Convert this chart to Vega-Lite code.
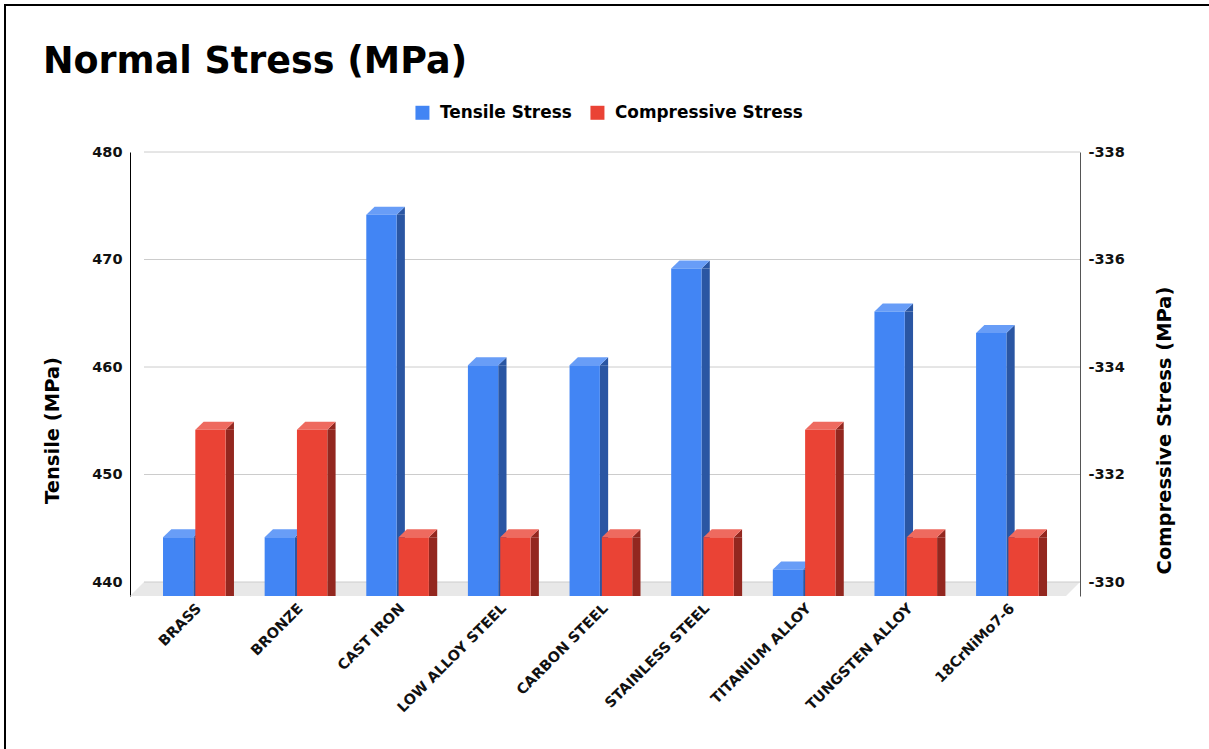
{
  "$schema": "https://vega.github.io/schema/vega-lite/v6.json",
  "width": 950,
  "height": 444,
  "autosize": {"type": "none"},
  "padding": {"left": 130, "top": 152, "right": 129, "bottom": 153},
  "background": "white",
  "config": {
    "view": {"stroke": null},
    "font": "DejaVu Sans",
    "axis": {
      "grid": false,
      "ticks": false,
      "labelFont": "DejaVu Sans",
      "labelFontWeight": "bold",
      "labelColor": "#111111",
      "titleFont": "DejaVu Sans",
      "titleFontWeight": "bold",
      "titleColor": "#000000"
    },
    "axisX": {
      "domain": false,
      "labelAngle": -45,
      "labelAlign": "right",
      "labelBaseline": "middle",
      "labelFontSize": 14.4,
      "labelPadding": 10,
      "labelOffset": 5,
      "labelLimit": 300
    },
    "axisY": {
      "domain": true,
      "domainWidth": 1,
      "labelFontSize": 14.5,
      "labelPadding": 8,
      "titleFontSize": 19.5,
      "titleAngle": -90,
      "titleAlign": "center",
      "titleBaseline": "middle",
      "titleY": 278
    },
    "axisLeft": {"domainColor": "#000000", "titleX": -78},
    "axisRight": {"domainColor": "#555555", "titleX": 84}
  },
  "title": {
    "text": "Normal Stress (MPa)",
    "anchor": "start",
    "frame": "group",
    "font": "DejaVu Sans",
    "fontSize": 36.5,
    "fontWeight": "bold",
    "color": "#000000",
    "dx": -87,
    "offset": 0,
    "dy": 76
  },
  "datasets": {
    "stress": [
      {"material": "BRASS", "tensile": 445, "compressive": -333},
      {"material": "BRONZE", "tensile": 445, "compressive": -333},
      {"material": "CAST IRON", "tensile": 475, "compressive": -331},
      {"material": "LOW ALLOY STEEL", "tensile": 461, "compressive": -331},
      {"material": "CARBON STEEL", "tensile": 461, "compressive": -331},
      {"material": "STAINLESS STEEL", "tensile": 470, "compressive": -331},
      {"material": "TITANIUM ALLOY", "tensile": 442, "compressive": -333},
      {"material": "TUNGSTEN ALLOY", "tensile": 466, "compressive": -331},
      {"material": "18CrNiMo7-6", "tensile": 464, "compressive": -331}
    ],
    "gridlines": [
      {"tick": 440}, {"tick": 450}, {"tick": 460}, {"tick": 470}, {"tick": 480}
    ],
    "single": [{"part": "decor"}]
  },
  "layer": [
    {
      "layer": [
        {
          "description": "Outer frame of the chart card",
          "data": {"name": "single"},
          "mark": {"type": "rect", "fill": null, "stroke": "#000000", "strokeWidth": 2},
          "encoding": {
            "x": {"value": -125},
            "x2": {"value": 1200},
            "y": {"value": -147},
            "y2": {"value": 800}
          }
        },
        {
          "description": "Grey floor of the 3D plot box",
          "data": {"name": "single"},
          "mark": {
            "type": "point",
            "shape": "M0,14 L14,0 L950,0 L936,14 Z",
            "size": 4,
            "filled": true,
            "fill": "#e8e8e8",
            "stroke": null,
            "opacity": 1
          },
          "encoding": {
            "x": {"value": 0},
            "y": {
              "datum": 440,
              "type": "quantitative",
              "scale": {"domain": [438.698, 480], "nice": false, "zero": false},
              "axis": {"title": "Tensile (MPa)", "values": [440, 450, 460, 470, 480]}
            }
          }
        },
        {
          "description": "Gridlines on the back wall",
          "data": {"name": "gridlines"},
          "mark": {"type": "rule", "stroke": "#cccccc", "strokeWidth": 1},
          "encoding": {
            "x": {"value": 14},
            "x2": {"value": 950},
            "y": {
              "field": "tick",
              "type": "quantitative",
              "axis": {"title": "Tensile (MPa)", "values": [440, 450, 460, 470, 480]}
            }
          }
        },
        {
          "description": "Tensile bars: side, top and front faces",
          "data": {"name": "stress"},
          "encoding": {
            "x": {
              "field": "material",
              "type": "nominal",
              "sort": null,
              "scale": {"range": [13.5, 928.2], "paddingInner": 0, "paddingOuter": 0},
              "axis": {"title": null}
            },
            "y": {
              "field": "tensile",
              "type": "quantitative",
              "axis": {"title": "Tensile (MPa)", "values": [440, 450, 460, 470, 480]}
            }
          },
          "layer": [
            {
              "mark": {"type": "bar", "width": 8.3, "xOffset": 3.15, "yOffset": 9, "fill": "#2a56a3"},
              "encoding": {"y2": {"datum": 438.698}}
            },
            {
              "mark": {"type": "point", "shape": "M-1,9 L7.3,1 L7.3,9 Z", "size": 4, "filled": true, "fill": "#2a56a3", "stroke": null, "opacity": 1}
            },
            {
              "mark": {"type": "point", "shape": "M-31.3,9 L-1,9 L7.3,1 L-23,1 Z", "size": 4, "filled": true, "fill": "#689df7", "stroke": null, "opacity": 1}
            },
            {
              "mark": {"type": "bar", "width": 30.3, "xOffset": -16.15, "yOffset": 9},
              "encoding": {
                "y2": {"datum": 438.698},
                "color": {
                  "datum": "Tensile Stress",
                  "scale": {"domain": ["Tensile Stress", "Compressive Stress"], "range": ["#4285f4", "#ea4335"]},
                  "legend": {
                    "title": null,
                    "orient": "none",
                    "direction": "horizontal",
                    "legendX": 284,
                    "legendY": -48,
                    "symbolType": "square",
                    "symbolSize": 196,
                    "symbolStrokeWidth": 0,
                    "labelFont": "DejaVu Sans",
                    "labelFontWeight": "bold",
                    "labelFontSize": 16.9,
                    "labelColor": "#000000",
                    "labelOffset": 9,
                    "columnPadding": 17,
                    "padding": 0,
                    "labelLimit": 300
                  }
                }
              }
            }
          ]
        }
      ]
    },
    {
      "data": {"name": "stress"},
      "encoding": {
        "x": {"field": "material", "type": "nominal", "sort": null, "axis": {"title": null}},
        "y": {
          "field": "compressive",
          "type": "quantitative",
          "scale": {"domain": [-329.74, -338], "nice": false, "zero": false},
          "axis": {
            "orient": "right",
            "title": "Compressive Stress (MPa)",
            "values": [-338, -336, -334, -332, -330],
            "labelExpr": "'-' + abs(datum.value)"
          }
        }
      },
      "layer": [
        {
          "mark": {"type": "bar", "width": 8.3, "xOffset": 35.5, "yOffset": 9, "fill": "#93271f"},
          "encoding": {"y2": {"datum": -329.74}}
        },
        {
          "mark": {"type": "point", "shape": "M31.3,9 L39.6,1 L39.6,9 Z", "size": 4, "filled": true, "fill": "#93271f", "stroke": null, "opacity": 1}
        },
        {
          "mark": {"type": "point", "shape": "M1,9 L31.3,9 L39.6,1 L9.3,1 Z", "size": 4, "filled": true, "fill": "#ee6a5f", "stroke": null, "opacity": 1}
        },
        {
          "mark": {"type": "bar", "width": 30.3, "xOffset": 16.15, "yOffset": 9},
          "encoding": {
            "y2": {"datum": -329.74},
            "color": {"datum": "Compressive Stress"}
          }
        }
      ]
    }
  ],
  "resolve": {"scale": {"y": "independent"}, "axis": {"y": "independent"}}
}
